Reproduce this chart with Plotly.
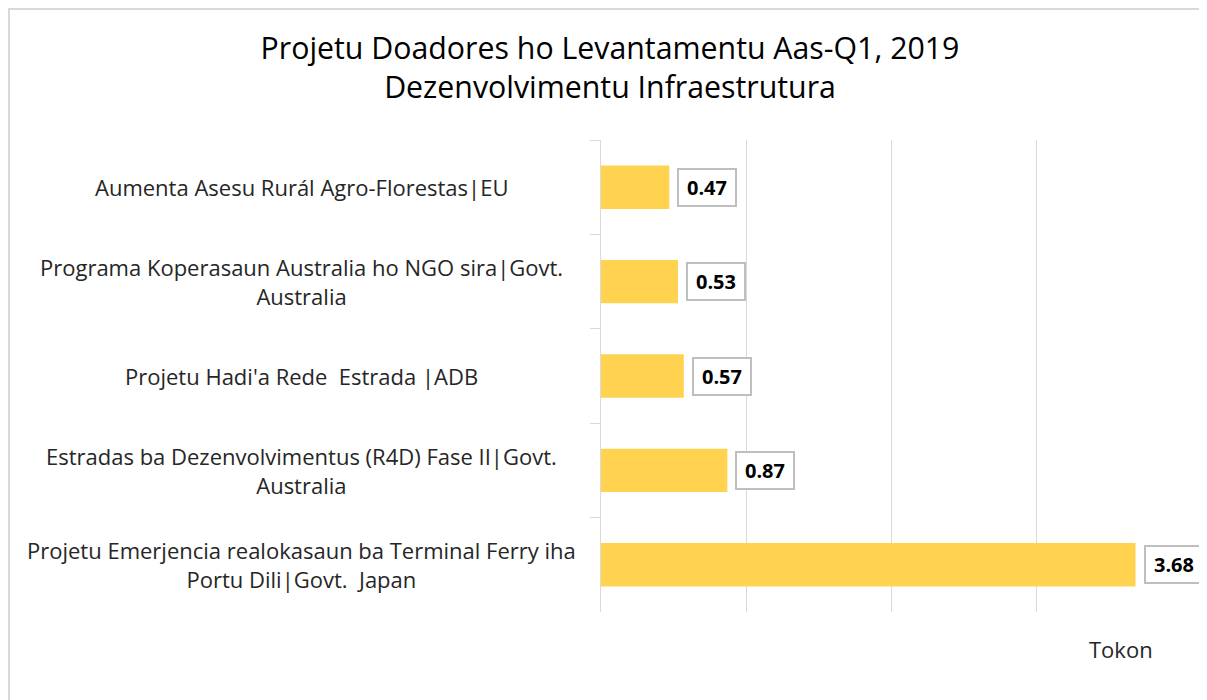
import plotly.graph_objects as go

categories = [
    "Aumenta Asesu Rurál Agro-Florestas|EU",
    "Programa Koperasaun Australia ho NGO sira|Govt.<br>Australia",
    "Projetu Hadi'a Rede  Estrada |ADB",
    "Estradas ba Dezenvolvimentus (R4D) Fase II|Govt.<br>Australia",
    "Projetu Emerjencia realokasaun ba Terminal Ferry iha<br>Portu Dili|Govt.  Japan",
]
values = [0.47, 0.53, 0.57, 0.87, 3.68]
title_lines = ["Projetu Doadores ho Levantamentu Aas-Q1, 2019", "Dezenvolvimentu Infraestrutura"]
axis_title = "Tokon"

# the page body adds an 8px margin, so figure px = screen px - 8
W, H = 1199, 692
L, R, T, B = 593, 1174, 132, 604  # plot area in figure px

def px_x(px):
    return (px - L) / (R - L)

def px_y(py):
    return (B - py) / (B - T)

bar_color = "#FFD34F"
grid = "#D9D9D9"
font_family = "'Open Sans', sans-serif"

fig = go.Figure(go.Bar(
    y=categories, x=values, orientation="h",
    marker=dict(color=bar_color, line=dict(width=0)),
    width=0.46, hoverinfo="x+y",
))

annotations = []
for c, v in zip(categories, values):
    annotations.append(dict(
        x=v, y=c, xref="x", yref="y", text=f"<b>{v:.2f}</b>",
        showarrow=False, xanchor="left", yanchor="middle", xshift=8,
        width=52, height=31, align="center", valign="middle",
        font=dict(family=font_family, size=20, color="#000000"),
        bgcolor="#FFFFFF", bordercolor="#BFBFBF", borderwidth=2, borderpad=2,
    ))
    annotations.append(dict(
        x=px_x(294), y=c, xref="paper", yref="y", text=c,
        showarrow=False, xanchor="center", yanchor="middle", align="center",
        font=dict(family=font_family, size=22, color="#262626"),
    ))

annotations.append(dict(
    x=px_x(1113), y=px_y(641), xref="paper", yref="paper", text=axis_title,
    showarrow=False, xanchor="center", yanchor="middle",
    font=dict(family=font_family, size=22, color="#262626"),
))

fig.update_layout(
    width=W, height=H,
    margin=dict(l=L, r=W - R, t=T, b=H - B, pad=0),
    paper_bgcolor="white", plot_bgcolor="white",
    showlegend=False,
    title=dict(
        text="<br>".join(title_lines),
        x=602 / W, xref="container", xanchor="center",
        y=1 - 51 / H, yref="container", yanchor="middle",
        font=dict(family=font_family, size=30.3, color="#000000"),
    ),
    xaxis=dict(
        range=[0, 4], dtick=1, showgrid=True, gridcolor=grid, gridwidth=1,
        showticklabels=False, zeroline=False, showline=False, ticks="",
        fixedrange=True,
    ),
    yaxis=dict(
        autorange="reversed", showticklabels=False, showgrid=False,
        showline=True, linecolor=grid, linewidth=1,
        ticks="outside", ticklen=10, tickcolor=grid, tickson="boundaries",
        zeroline=False,
    ),
    annotations=annotations,
    shapes=[dict(
        type="rect", xref="paper", yref="paper",
        x0=px_x(1), x1=px_x(W + 6), y0=px_y(H + 6), y1=px_y(1),
        line=dict(color=grid, width=2), fillcolor="rgba(0,0,0,0)", layer="below",
    )],
)

fig.write_html("out.html")
